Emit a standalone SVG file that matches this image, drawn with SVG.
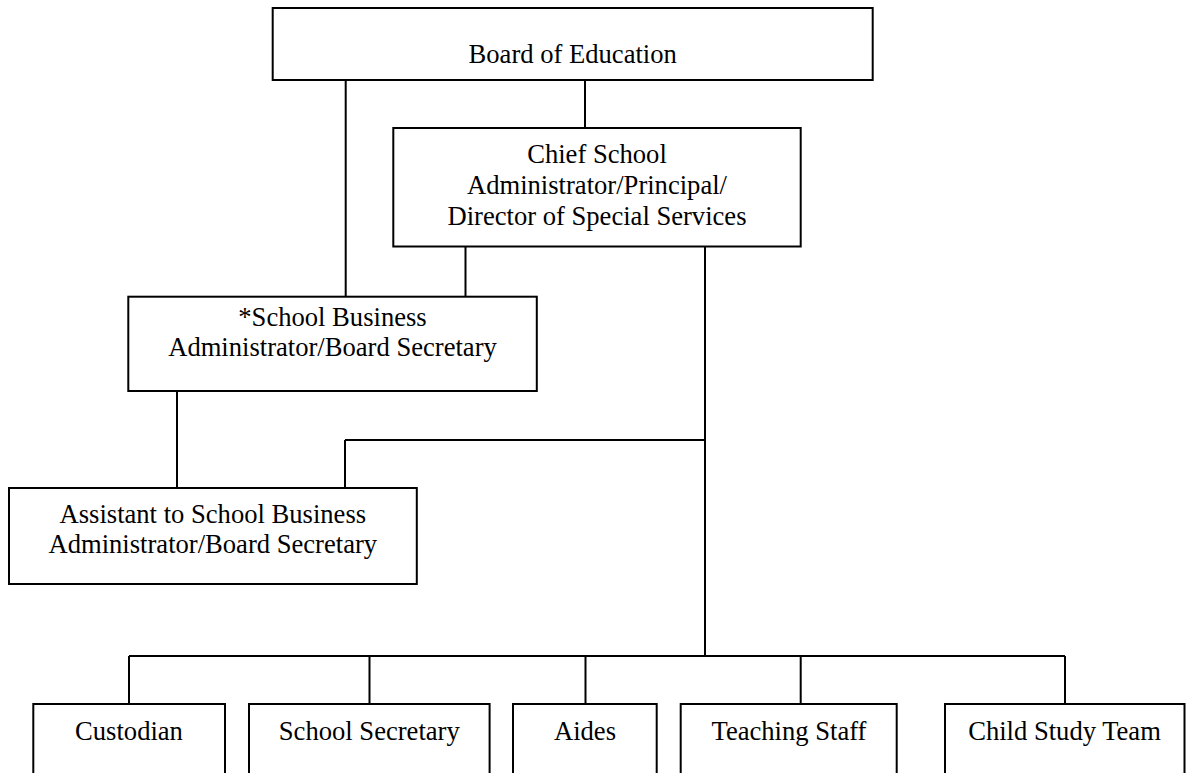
<svg xmlns="http://www.w3.org/2000/svg" width="1187" height="773" viewBox="0 0 1187 773">
<style>
.box{fill:#fff;stroke:#000;stroke-width:2}
.ln{fill:none;stroke:#000;stroke-width:2}
text{font-family:"Liberation Serif","Times New Roman",serif;font-size:26.6px;fill:#000;text-anchor:middle}
</style>
<rect width="1187" height="773" fill="#fff"/>
<g id="connectors">
<path class="ln" d="M345.7 80V296.7M585 80V128M465.5 246.5V296.7M705 246.5V656M345 440H705M345 440V488M177 391V488M129 656H1065M129 656V704M369.5 656V704M585.5 656V704M800.7 656V704M1065 656V704"/>
</g>
<g id="board"><rect class="box" x="272.7" y="8" width="600" height="72"/><text x="572.7" y="63.3">Board of Education</text></g>
<g id="chief"><rect class="box" x="393.3" y="128" width="407.4" height="118.5"/><text x="597" y="163">Chief School</text><text x="597" y="194">Administrator/Principal/</text><text x="597" y="225">Director of Special Services</text></g>
<g id="business"><rect class="box" x="128.3" y="296.7" width="408.5" height="94.3"/><text x="332.5" y="325.7">*School Business</text><text x="332.5" y="356">Administrator/Board Secretary</text></g>
<g id="assistant"><rect class="box" x="9" y="488" width="407.8" height="96"/><text x="212.8" y="522.7">Assistant to School Business</text><text x="212.8" y="553.3">Administrator/Board Secretary</text></g>
<g id="custodian"><rect class="box" x="33.3" y="704" width="191.7" height="100"/><text x="129" y="740">Custodian</text></g>
<g id="secretary"><rect class="box" x="249" y="704" width="240.6" height="100"/><text x="369.3" y="740">School Secretary</text></g>
<g id="aides"><rect class="box" x="513" y="704" width="143.7" height="100"/><text x="585" y="740">Aides</text></g>
<g id="teaching"><rect class="box" x="680.7" y="704" width="216" height="100"/><text x="789" y="740">Teaching Staff</text></g>
<g id="childstudy"><rect class="box" x="945" y="704" width="239.5" height="100"/><text x="1064.5" y="740">Child Study Team</text></g>
</svg>
